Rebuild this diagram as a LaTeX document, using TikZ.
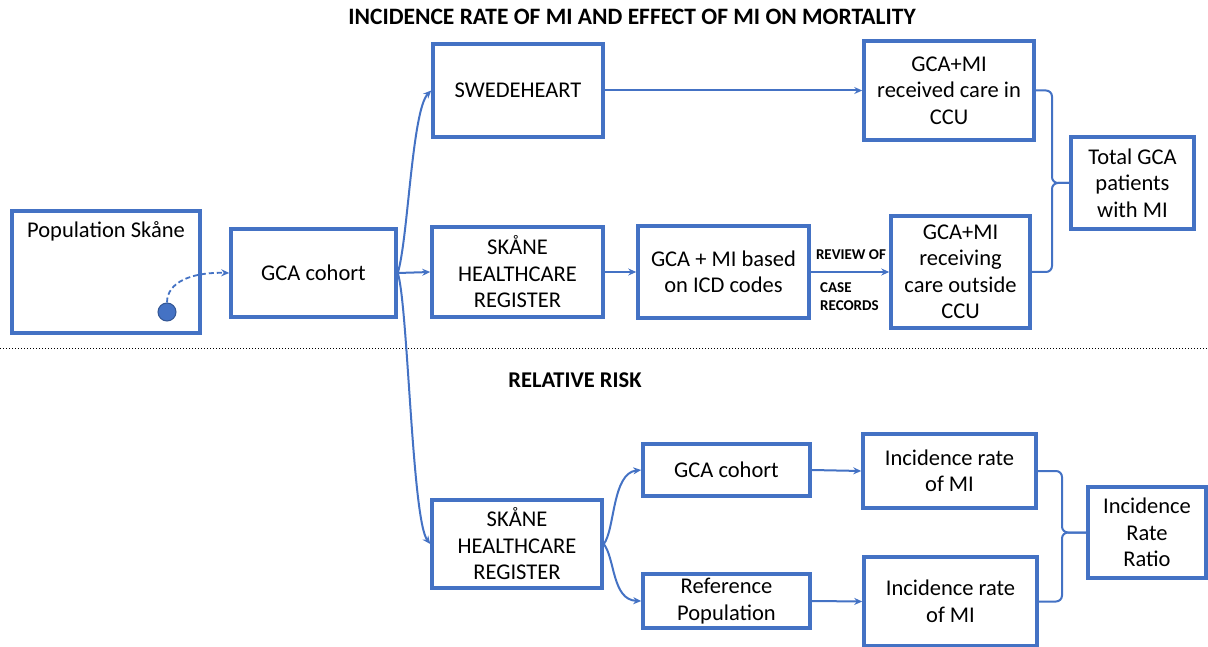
\documentclass[tikz,border=0pt]{standalone}
\usepackage{fontspec}
\setmainfont{Carlito}
\usetikzlibrary{arrows.meta}
\definecolor{cblue}{HTML}{4472C4}
\begin{document}
\begin{tikzpicture}[x=1pt,y=-1pt,
  box/.style={draw=cblue, line width=3.5pt, fill=white, align=center, inner sep=2pt,
    font=\fontsize{22.5}{26.5}\selectfont, text=black},
  conn/.style={draw=cblue, line width=2pt, -{Stealth[length=8pt,width=7pt]}},
  brace/.style={draw=cblue, line width=2pt, rounded corners=6pt},
  smalllbl/.style={font=\bfseries\fontsize{15}{18}\selectfont, inner sep=0pt},
  heading/.style={font=\bfseries\fontsize{23.5}{26}\selectfont, inner sep=0pt},
]
\useasboundingbox (0,0) rectangle (1208,647);

% headings and separator
\node[heading] (title) at (632,17) {INCIDENCE RATE OF MI AND EFFECT OF MI ON MORTALITY};
\node[heading, font=\bfseries\fontsize{22.5}{26}\selectfont] (rr) at (575,380) {RELATIVE RISK};
\draw[black, line width=1pt, dotted] (0,348) -- (1208,348);

% upper part
\node[box, minimum width=188pt, minimum height=122pt,
  label={[anchor=north, yshift=-9pt, font=\fontsize{22.5}{26.5}\selectfont]north:Population Skåne}] (pop) at (106,272) {};
\node[circle, fill=cblue, draw=cblue!75!black, line width=1pt, minimum size=18pt, inner sep=0pt] (dot) at (167,312) {};
\node[box, minimum width=165pt, minimum height=88pt] (gca) at (313.5,273) {GCA cohort};
\node[box, minimum width=170pt, minimum height=93pt] (swh) at (518,90.5) {SWEDEHEART};
\node[box, minimum width=171pt, minimum height=90pt] (shr1) at (517.5,272) {SKÅNE\\HEALTHCARE\\REGISTER};
\node[box, minimum width=171pt, minimum height=92pt] (icd) at (723.5,272) {GCA + MI based\\on ICD codes};
\node[box, minimum width=139pt, minimum height=112pt] (out) at (960.5,272) {GCA+MI\\receiving\\care outside\\CCU};
\node[box, minimum width=170pt, minimum height=99pt] (ccu) at (949,90.5) {GCA+MI\\received care in\\CCU};
\node[box, minimum width=123pt, minimum height=92pt] (tot) at (1132.5,183) {Total GCA\\patients\\with MI};

% lower part
\node[box, minimum width=170pt, minimum height=88pt] (shr2) at (517,544) {SKÅNE\\HEALTHCARE\\REGISTER};
\node[box, minimum width=167pt, minimum height=52pt] (gca2) at (726.5,470) {GCA cohort};
\node[box, minimum width=167pt, minimum height=54pt] (ref) at (726.5,601) {Reference\\Population};
\node[box, minimum width=173pt, minimum height=74pt] (ir1) at (949.5,471) {Incidence rate\\of MI};
\node[box, minimum width=173pt, minimum height=89pt] (ir2) at (950.5,601.5) {Incidence rate\\of MI};
\node[box, minimum width=118pt, minimum height=91pt] (irr) at (1147,532.5) {Incidence\\Rate\\Ratio};

% labels on the review arrow
\node[smalllbl] (rev) at (851,255) {REVIEW OF};
\node[smalllbl, anchor=north west] (case) at (820,280) {\begin{tabular}{@{}l@{}}CASE\\RECORDS\end{tabular}};

% connectors
\draw[conn, line width=1.8pt, dash pattern=on 5pt off 3pt] (dot.north) .. controls (167,282) and (192,272) .. (gca.west);
\draw[conn] (gca.east) .. controls (408,240) and (412,110) .. (swh.west);
\draw[conn] (gca.east) -- (shr1.west);
\draw[conn] (gca.east) .. controls (408,305) and (412,520) .. (shr2.west);
\draw[conn] (swh.east) -- (ccu.west);
\draw[conn] (shr1.east) -- (icd.west);
\draw[conn] (icd.east) -- (out.west);
\draw[conn] (shr2.east) .. controls (615,530) and (612,473) .. (gca2.west);
\draw[conn] (shr2.east) .. controls (615,558) and (612,600) .. (ref.west);
\draw[conn] (gca2.east) -- (ir1.west);
\draw[conn] (ref.east) -- (ir2.west);

% braces
\coordinate (b1) at (1052,183);
\draw[brace] (ccu.east) -| (b1) -- (tot.west);
\draw[brace] (out.east) -| (b1) -- (tot.west);
\coordinate (b2) at (1062,532.5);
\draw[brace] (ir1.east) -| (b2) -- (irr.west);
\draw[brace] (ir2.east) -| (b2) -- (irr.west);
\end{tikzpicture}
\end{document}
